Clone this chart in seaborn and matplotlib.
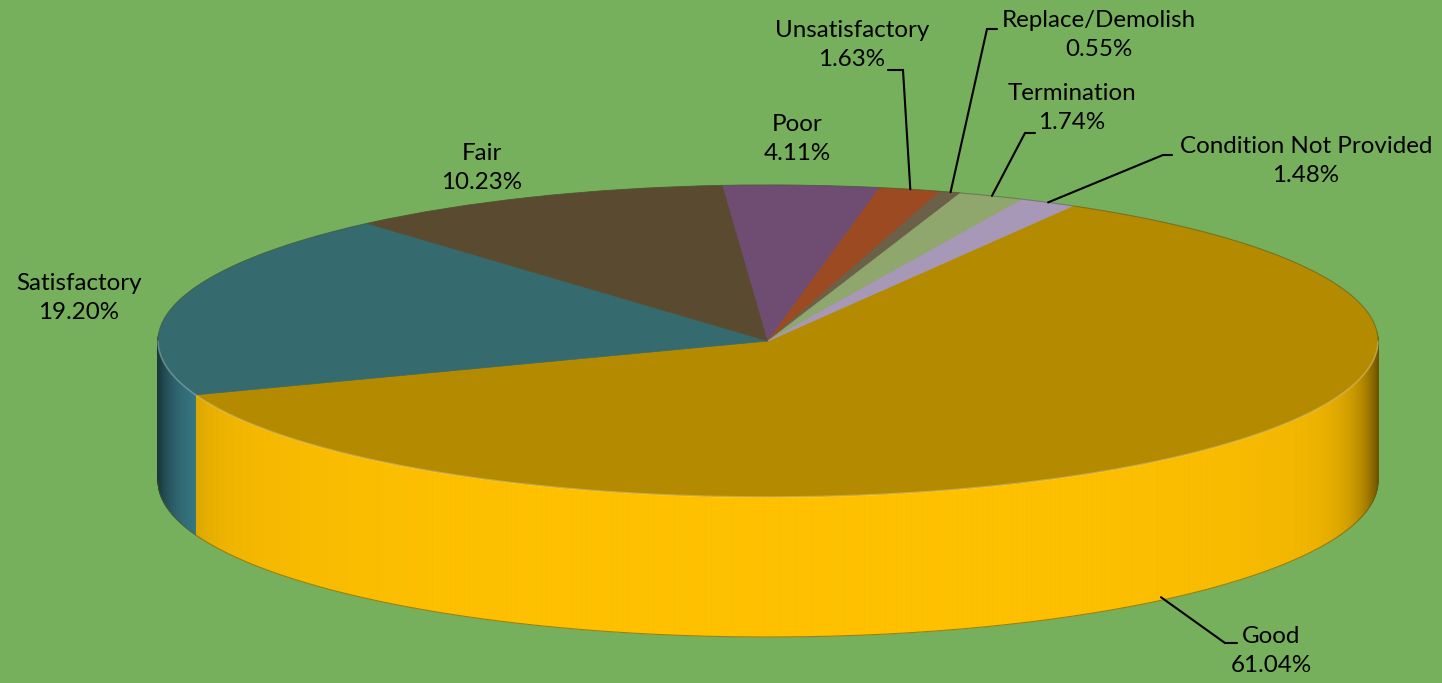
import numpy as np
import matplotlib
matplotlib.use("Agg")
import matplotlib.pyplot as plt
import seaborn as sns
from matplotlib.collections import PolyCollection
from matplotlib.colors import to_rgb

# data
labels = ['Good', 'Satisfactory', 'Fair', 'Poor', 'Unsatisfactory',
          'Replace/Demolish', 'Termination', 'Condition Not Provided']
shares = [61.04, 19.20, 10.23, 4.11, 1.63, 0.55, 1.74, 1.48]

# colours: top face and side face
top_colors = ['#B38A00', '#356B6E', '#5A4A30', '#6F4C72',
              '#9C4A22', '#6B6048', '#8FA66C', '#A898B8']
side_colors = ['#FFC000', '#3E8896', '#7A6545', '#93679A',
               '#C8602E', '#8C7E60', '#B2CC8C', '#C9B8D8']

# label centres (pixels) and leader line points (label end, elbow)
label_px = {
    'Good': (1271, 651),
    'Satisfactory': (79, 298),
    'Fair': (482, 168),
    'Poor': (797, 139),
    'Unsatisfactory': (852, 45),
    'Replace/Demolish': (1099, 35),
    'Termination': (1072, 108),
    'Condition Not Provided': (1306, 161),
}
leader_px = {
    'Good': [(1237, 643), (1225, 643)],
    'Unsatisfactory': [(888, 70), (903, 70)],
    'Replace/Demolish': [(997, 29), (987, 29)],
    'Termination': [(1035, 133), (1025, 133)],
    'Condition Not Provided': [(1172, 155), (1163, 155)],
}

BG = '#76B05C'
START = 60
CX, CY, RX, RY = 768, 341, 610, 156
DEPTH = 140 / RY


def px(x, y):
    return (x - CX) / RX, (CY - y) / RY


sns.set_theme(style='white')
plt.rcParams['font.family'] = ['Lato', 'DejaVu Sans']

fig = plt.figure(figsize=(14.42, 6.83), dpi=100, facecolor=BG)
ax = fig.add_axes([0, 0, 1, 1])
ax.set_facecolor(BG)

fracs = np.array(shares) / sum(shares)
edges = START - 360 * np.concatenate([[0], np.cumsum(fracs)])
mids = (edges[:-1] + edges[1:]) / 2

# side wall, shaded darker towards the left and right ends
quads, qcols = [], []
for i in range(len(shares)):
    n = max(2, int(abs(edges[i] - edges[i + 1]) / 0.5) + 2)
    th = np.radians(np.linspace(edges[i], edges[i + 1], n))
    for a0, a1 in zip(th[:-1], th[1:]):
        mid = (a0 + a1) / 2
        if np.sin(mid) > 0.05:
            continue
        x0, y0, x1, y1 = np.cos(a0), np.sin(a0), np.cos(a1), np.sin(a1)
        quads.append([(x0, y0), (x1, y1), (x1, y1 - DEPTH), (x0, y0 - DEPTH)])
        c = abs(np.cos(mid))
        shade = 1 - 0.5 * c ** 30 - 0.08 * c ** 4
        qcols.append(np.clip(np.array(to_rgb(side_colors[i])) * shade, 0, 1))
ax.add_collection(PolyCollection(quads, facecolors=qcols, edgecolors=qcols,
                                 linewidths=0.6, zorder=1))

# bottom outline
t = np.radians(np.linspace(-180, 0, 300))
ax.plot(np.cos(t), np.sin(t) - DEPTH, color='#5a5a20', lw=0.8, alpha=0.6, zorder=2)

# top face
wedges, _ = ax.pie(shares, colors=top_colors, startangle=START, counterclock=False,
                   radius=1, center=(0, 0), frame=True,
                   wedgeprops=dict(linewidth=0.5))
for w in wedges:
    w.set_edgecolor(w.get_facecolor())
    w.set_zorder(3)

# rim highlight and outline of the top face
ax.plot(np.cos(t), np.sin(t), color='white', lw=1.2, alpha=0.25, zorder=4)
t2 = np.radians(np.linspace(0, 180, 300))
ax.plot(np.cos(t2), np.sin(t2), color='#4a5a30', lw=0.8, alpha=0.5, zorder=4)

# labels and leader lines
for i, lab in enumerate(labels):
    x, y = px(*label_px[lab])
    ax.text(x, y, f'{lab}\n{shares[i]:.2f}%', ha='center', va='center',
            fontsize=17.4, linespacing=1.5, color='black', zorder=6)
    if lab in leader_px:
        a = np.radians(mids[i])
        ax_, ay_ = np.cos(a), np.sin(a)
        if lab == 'Good':
            ay_ = ay_ - DEPTH + 0.02
        pts = [px(*p) for p in leader_px[lab]] + [(ax_, ay_)]
        ax.plot([p[0] for p in pts], [p[1] for p in pts], color='black',
                lw=1.5, zorder=5, solid_joinstyle='miter')

ax.set_aspect('auto')
ax.set_xlim(px(0, 0)[0], px(1442, 0)[0])
ax.set_ylim(px(0, 683)[1], px(0, 0)[1])
ax.axis('off')

fig.savefig('out.png', dpi=100, facecolor=BG)
